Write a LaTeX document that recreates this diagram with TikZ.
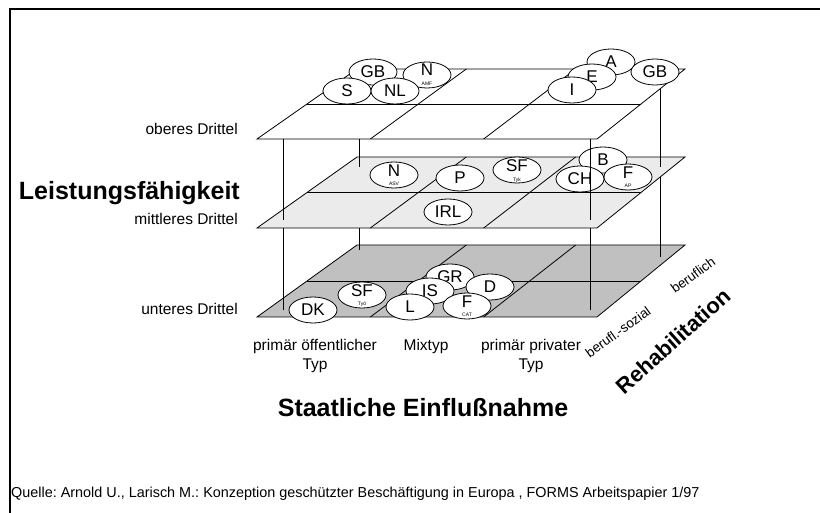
\documentclass[tikz,border=0pt]{standalone}
\usepackage{fontspec}
\setmainfont{Liberation Sans}
\usetikzlibrary{shapes.geometric,calc}
\definecolor{midgray}{HTML}{EBEBEB}
\definecolor{lowgray}{HTML}{C0C0C0}
\frenchspacing

% one level of the grid: front edge y, back edge y, fill colour
\newcommand\drawlevel[3]{%
  \filldraw[plane,fill=#3] (257,#1) -- (597,#1) -- (685,#2) -- (357,#2) -- cycle;
  \draw[plane] ($(257,#1)!.5!(357,#2)$) -- ($(597,#1)!.5!(685,#2)$);
  \draw[plane] ($(257,#1)!1/3!(597,#1)$) -- ($(357,#2)!1/3!(685,#2)$);
  \draw[plane] ($(257,#1)!2/3!(597,#1)$) -- ($(357,#2)!2/3!(685,#2)$);
}

\begin{document}
\begin{tikzpicture}[x=1pt,y=-1pt,
  plane/.style={draw=black,line width=0.8pt,line join=miter},
  post/.style={draw=black,line width=0.8pt},
  land/.style={ellipse,draw=black,fill=white,line width=0.8pt,minimum width=48pt,
    minimum height=26pt,inner sep=0pt,font=\fontsize{17}{17}\selectfont},
  cname/.style={inner sep=0pt,font=\fontsize{17}{17}\selectfont},
  sub/.style={inner sep=0pt,font=\fontsize{5}{5}\selectfont},
  axis/.style={inner sep=0pt,font=\fontsize{15.5}{15.5}\selectfont},
  heading/.style={inner sep=0pt,font=\bfseries\fontsize{25}{25}\selectfont},
  tilted/.style={inner sep=0pt,font=\fontsize{13.5}{13.5}\selectfont,rotate=36}]

\useasboundingbox (0,0) rectangle (820,513);
\fill[white] (0,0) rectangle (820,513);

% frame
\draw[line width=2pt] (10.3,513) -- (10.3,9.5) -- (820,9.5);

% post positions on the three levels
\coordinate (flB) at (283,310); \coordinate (flM) at (283,220); \coordinate (flT) at (283,131);
\coordinate (blB) at (359,250); \coordinate (blM) at (359,167); \coordinate (blT) at (359,79);
\coordinate (frB) at (590,310); \coordinate (frM) at (590,220); \coordinate (frT) at (590,131);
\coordinate (brB) at (660,257); \coordinate (brM) at (660,167); \coordinate (brT) at (660,79);

% lower level
\drawlevel{317}{245}{lowgray}
\node[land] (gr) at (450,277) {GR};
\node[land] (is) at (430,291) {IS};
\node[land] (d) at (490,287) {D};
\node[land] (l) at (410,307) {L};
\node[land] (fL) at (467,306) {};
\node[cname] (fLt) at (467,302) {F};
\node[sub] (fLs) at (467,315) {CAT};
\node[land] (sfL) at (362,295) {};
\node[cname] (sfLt) at (362,291) {SF};
\node[sub] (sfLs) at (362,304) {Työ};
\node[land] (dk) at (313,310) {DK};

\draw[post] (flB) -- (flM);
\draw[post] (blB) -- (blM);
\draw[post] (frB) -- (frM);
\draw[post] (brB) -- (brM);

% middle level
\drawlevel{228}{157}{midgray}
\node[land] (nM) at (394,175) {};
\node[cname] (nMt) at (394,171) {N};
\node[sub] (nMs) at (394,184) {ASV};
\node[land] (p) at (460,178) {P};
\node[land] (sfM) at (517,170) {};
\node[cname] (sfMt) at (517,166) {SF};
\node[sub] (sfMs) at (517,180) {Tyk};
\node[land] (irl) at (448,212) {IRL};
\node[land] (b) at (603,160) {B};
\node[land] (ch) at (580,179) {CH};
\node[land] (fM) at (628,177) {};
\node[cname] (fMt) at (628,173) {F};
\node[sub] (fMs) at (628,186) {AP};

\draw[post] (flM) -- (flT);
\draw[post] (blM) -- (blT);
\draw[post] (frM) -- (frT);
\draw[post] (brM) -- (brT);

% upper level
\drawlevel{139}{69}{white}
\node[land] (gbT) at (373,72) {GB};
\node[land] (nT) at (427,75) {};
\node[cname] (nTt) at (427,70) {N};
\node[sub] (nTs) at (427,84) {AMF};
\node[land] (s) at (347,91) {S};
\node[land] (nl) at (395,91) {NL};
\node[land] (a) at (611,62) {A};
\node[land] (gbR) at (655,72) {GB};
\node[land] (e) at (592,77) {E};
\node[land] (i) at (572,90) {I};

% level captions
\node[axis,anchor=base east] (ob) at (238,135) {oberes Drittel};
\node[axis,anchor=base east] (mi) at (238,225) {mittleres Drittel};
\node[axis,anchor=base east] (un) at (238,315) {unteres Drittel};
\node[heading,anchor=base east] (lf) at (240,200) {Leistungsfähigkeit};

% type captions
\node[axis,anchor=base] (t1a) at (315,350) {primär öffentlicher};
\node[axis,anchor=base] (t1b) at (315,369) {Typ};
\node[axis,anchor=base] (t2) at (426,350) {Mixtyp};
\node[axis,anchor=base] (t3a) at (531,350) {primär privater};
\node[axis,anchor=base] (t3b) at (531,369) {Typ};
\node[heading,anchor=base] (se) at (423,416) {Staatliche Einflußnahme};

% rehabilitation captions
\node[tilted] (bs) at (618,332) {berufl.-sozial};
\node[tilted] (bf) at (693,275) {beruflich};
\node[heading,font=\bfseries\fontsize{22}{22}\selectfont,rotate=42] (rh) at (673,341) {Rehabilitation};

% source line
\node[inner sep=0pt,anchor=base west,font=\fontsize{14.4}{14.4}\selectfont] (src) at (11,497)
  {Quelle: Arnold U., Larisch M.: Konzeption geschützter Beschäftigung in Europa , FORMS Arbeitspapier 1/97};
\end{tikzpicture}
\end{document}
